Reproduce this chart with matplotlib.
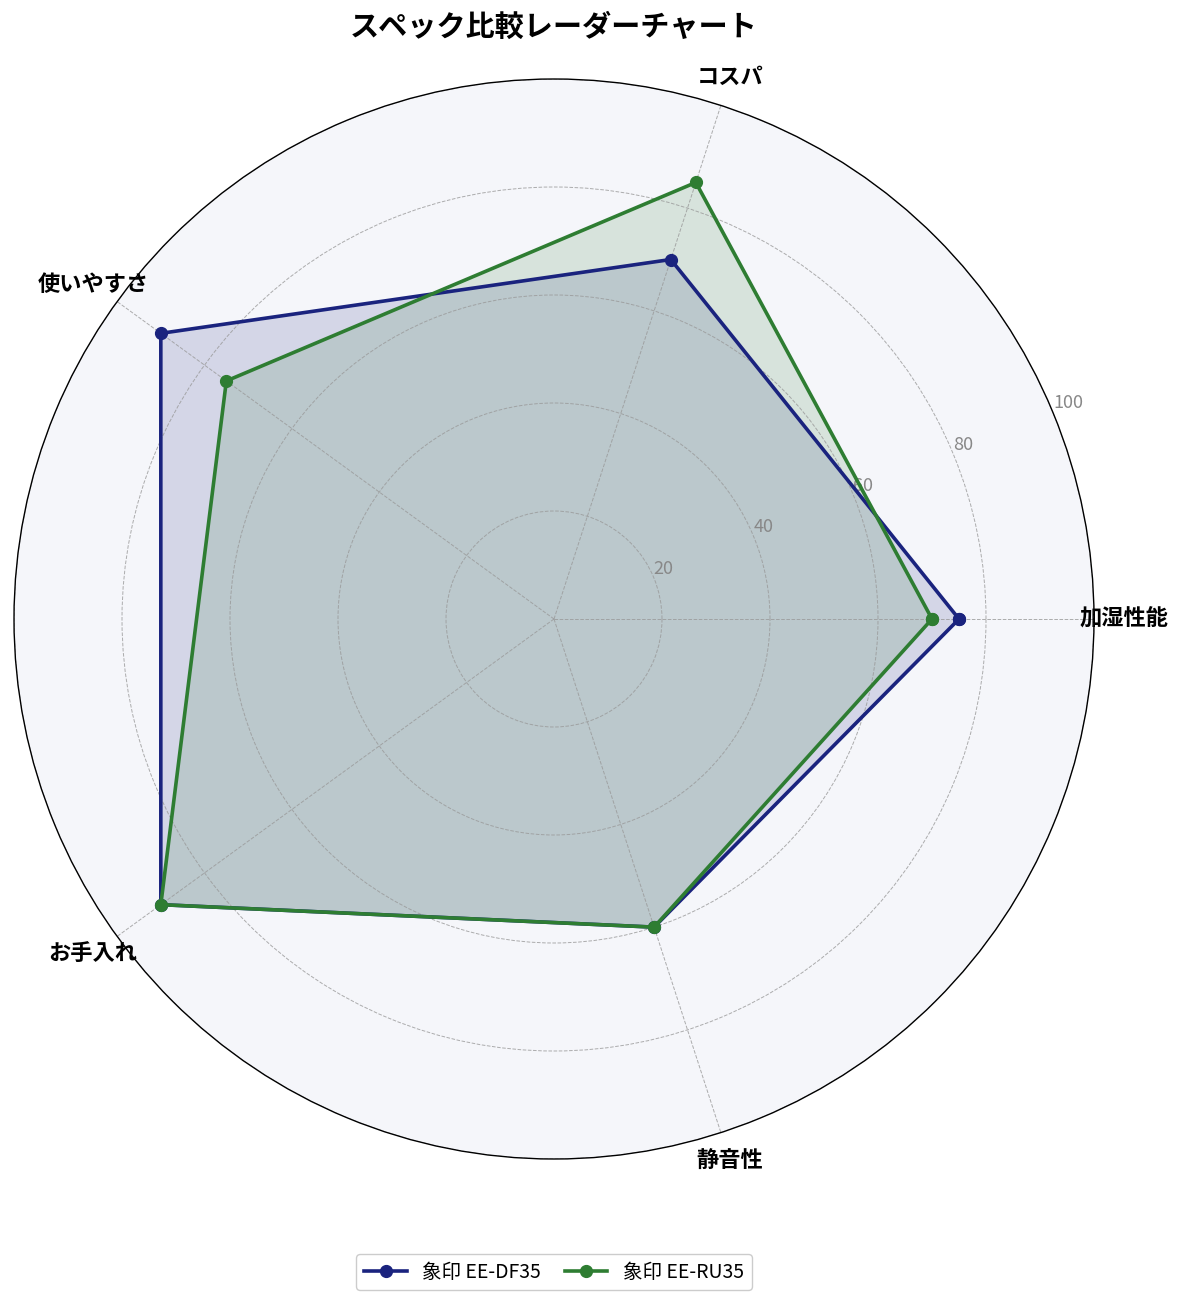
import numpy as np
import matplotlib
matplotlib.use("Agg")
import matplotlib.pyplot as plt

plt.rcParams['font.family'] = ['Noto Sans CJK JP', 'DejaVu Sans']

# data
categories = ["加湿性能", "コスパ", "使いやすさ", "お手入れ", "静音性"]
series_names = ["象印 EE-DF35", "象印 EE-RU35"]
df35 = [75, 70, 90, 90, 60]
ru35 = [70, 85, 75, 90, 60]
r_ticks = [20, 40, 60, 80, 100]

colors = ["#1a237e", "#2e7d32"]

n = len(categories)
angles = np.linspace(0, 2 * np.pi, n, endpoint=False).tolist()
angles_closed = angles + angles[:1]

fig = plt.figure(figsize=(11.85, 13.04), dpi=100)
ax = fig.add_axes([14 / 1185, 145 / 1304, 1080 / 1185, 1080 / 1304], polar=True)
ax.set_facecolor("#f5f6fa")

for vals, name, col in zip([df35, ru35], series_names, colors):
    v = vals + vals[:1]
    ax.plot(angles_closed, v, color=col, linewidth=2.6, marker="o", markersize=8.5, label=name)
    ax.fill(angles_closed, v, color=col, alpha=0.15)

ax.set_ylim(0, 100)
ax.set_yticks(r_ticks)
ax.set_yticklabels([str(t) for t in r_ticks], color="#888888", fontsize=13)
ax.set_xticks(angles)
ax.set_xticklabels(categories, fontsize=16, fontweight="bold")
ax.tick_params(axis="x", pad=11)
ax.grid(color="#999999", linestyle="--", linewidth=0.7, alpha=0.8)
ax.spines["polar"].set_color("black")
ax.spines["polar"].set_linewidth(1.0)

# title and legend are centred on the polar axes, not the figure
cx = 554 / 1185
fig.text(cx, 1 - 27 / 1304, "スペック比較レーダーチャート", ha="center", va="center",
         fontsize=21, fontweight="bold")

fig.legend(loc="center", bbox_to_anchor=(cx, 1 - 1272 / 1304), ncol=2, fontsize=14,
           handlelength=2.2, columnspacing=1.2, framealpha=1, edgecolor="#cccccc")

plt.savefig("out.png", dpi=100)
